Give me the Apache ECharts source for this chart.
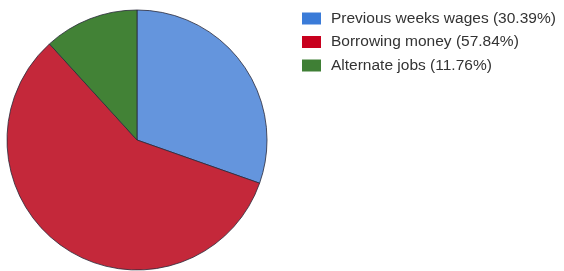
<!DOCTYPE html>
<html><head><meta charset="utf-8">
<script src="https://cdn.jsdelivr.net/npm/echarts@6/dist/echarts.min.js"></script>
<style>html,body{margin:0;padding:0;background:#fff}#c{width:564px;height:271px}</style>
</head><body><div id="c"></div>
<script>
const categories = ["Previous weeks wages (30.39%)", "Borrowing money (57.84%)", "Alternate jobs (11.76%)"];
const values = [30.39, 57.84, 11.76];
const sliceColors = ["#6495dd", "#c4283a", "#428236"];
const legendColors = ["#3a7bd8", "#c8001e", "#3f7f35"];

const chart = echarts.init(document.getElementById('c'), null, {renderer: 'canvas'});
chart.setOption({
  animation: false,
  legend: {
    orient: 'vertical',
    left: 297, top: 5.5,
    icon: 'rect',
    itemWidth: 19, itemHeight: 12, itemGap: 7.5,
    textStyle: {fontFamily: 'Liberation Sans, Arial, sans-serif', fontSize: 15.5, lineHeight: 16, color: '#333', padding: [0,0,0,5]},
    data: categories.map((n, i) => ({name: n, itemStyle: {color: legendColors[i], borderWidth: 0}}))
  },
  series: [{
    type: 'pie',
    center: [137, 140],
    radius: 130,
    startAngle: 90,
    clockwise: true,
    label: {show: false},
    labelLine: {show: false},
    emphasis: {disabled: true},
    itemStyle: {borderColor: '#2a2a3a', borderWidth: 0.8},
    data: categories.map((n, i) => ({name: n, value: values[i], itemStyle: {color: sliceColors[i]}}))
  }]
});
</script></body></html>
